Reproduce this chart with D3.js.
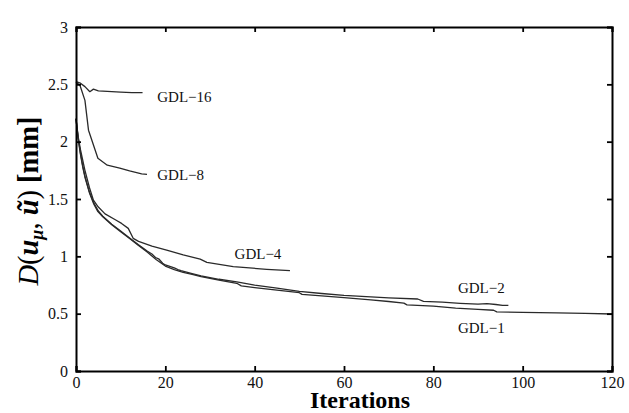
<!DOCTYPE html>
<html><head><meta charset="utf-8">
<script src="https://cdn.jsdelivr.net/npm/d3@7"></script>
<style>body{margin:0;background:#fff}svg{display:block}text{font-family:"Liberation Serif","Times New Roman",serif}</style>
</head><body><svg id="c" width="629" height="413"></svg>
<script>
const xTicks = [0,20,40,60,80,100,120];
const yTicks = [0,0.5,1,1.5,2,2.5,3];
const yTickLabels = ["0","0.5","1","1.5","2","2.5","3"];

const gdl16 = [[0,2.523],[1,2.51],[2,2.48],[3.1,2.436],[3.9,2.458],[5,2.443],[7,2.438],[10,2.432],[12.5,2.428],[14.9,2.427]];
const gdl8 = [[0,2.52],[0.9,2.49],[2,2.36],[2.8,2.1],[4.9,1.855],[7,1.795],[9.8,1.77],[12,1.745],[14.7,1.72],[15.9,1.715]];
const gdl4 = [[0,2.2],[0.5,2.04],[1,1.93],[2,1.75],[3,1.6],[3.9,1.49],[5,1.43],[6.5,1.37],[8.9,1.317],[10.2,1.287],[11.7,1.244],[12.8,1.157],[14,1.13],[17,1.09],[20.3,1.055],[24,1.012],[27.8,0.975],[29.3,0.948],[35.2,0.91],[42.7,0.887],[47.9,0.875]];
const gdl2 = [[0,2.2],[0.5,2.03],[1,1.9],[1.5,1.79],[2,1.7],[3,1.56],[4,1.465],[5,1.395],[6,1.35],[8,1.28],[10,1.22],[12,1.16],[14,1.1],[16,1.045],[17,1.02],[17.8,0.99],[18.6,0.975],[19.4,0.94],[20,0.925],[22,0.9],[22.8,0.885],[23.5,0.875],[26,0.85],[28,0.83],[32,0.8],[36,0.777],[40,0.748],[45,0.722],[50,0.695],[55,0.676],[60,0.66],[66,0.646],[70,0.638],[76.5,0.628],[77.8,0.607],[82,0.6],[86,0.59],[90,0.583],[92,0.588],[94,0.58],[95.5,0.572],[96.8,0.572]];
const gdl1 = [[0,2.2],[0.5,2.02],[1,1.89],[1.5,1.78],[2,1.69],[3,1.555],[4,1.455],[4.9,1.39],[6,1.345],[8,1.275],[10,1.215],[12,1.155],[14,1.095],[16,1.035],[18,0.97],[20,0.915],[22,0.885],[24,0.86],[26,0.842],[28,0.823],[32,0.793],[36,0.765],[37,0.742],[40,0.728],[45,0.706],[50,0.683],[50.6,0.668],[55,0.656],[60,0.64],[66,0.62],[70,0.606],[73.4,0.592],[74.1,0.577],[80,0.566],[85,0.549],[90,0.537],[93.5,0.53],[94.2,0.516],[100,0.512],[107.6,0.507],[114,0.502],[120,0.497]];

const seriesNames = ["GDL−16","GDL−8","GDL−4","GDL−2","GDL−1"];
const seriesData = [gdl16, gdl8, gdl4, gdl2, gdl1];
const labelAnchors = [[18.2,2.35],[18.2,1.666],[35.5,0.977],[85.5,0.68],[85.5,0.331]];

const svg = d3.select("#c");
const L = 76, R = 612, T = 27, B = 371;
const x = d3.scaleLinear().domain([0,120]).range([L,R]);
const y = d3.scaleLinear().domain([0,3]).range([B,T]);

const line = d3.line().x(d=>x(d[0])).y(d=>y(d[1]));
seriesData.forEach(s=>{
  svg.append("path").attr("d", line(s)).attr("fill","none")
    .attr("stroke","#2a2a2a").attr("stroke-width",1.3).attr("stroke-linejoin","round");
});

// axes with inward ticks
const tk = 5;
const gB = svg.append("g").attr("transform",`translate(0,${B})`)
  .call(d3.axisBottom(x).tickValues(xTicks).tickSize(-tk).tickPadding(6).tickFormat(d3.format("d")));
const gT = svg.append("g").attr("transform",`translate(0,${T})`)
  .call(d3.axisTop(x).tickValues(xTicks).tickSize(-tk).tickFormat(""));
const gL = svg.append("g").attr("transform",`translate(${L},0)`)
  .call(d3.axisLeft(y).tickValues(yTicks).tickSize(-tk).tickPadding(8).tickFormat((d,i)=>yTickLabels[i]));
const gR = svg.append("g").attr("transform",`translate(${R},0)`)
  .call(d3.axisRight(y).tickValues(yTicks).tickSize(-tk).tickFormat(""));
[gB,gT,gL,gR].forEach(g=>{
  g.select(".domain").attr("stroke","#000").attr("stroke-width",2);
  g.selectAll(".tick line").attr("stroke","#000").attr("stroke-width",1.8);
  g.selectAll(".tick text").attr("font-family","Liberation Serif, serif").attr("font-size",16).attr("fill","#111");
});

// series labels
seriesNames.forEach((n,i)=>{
  svg.append("text").attr("x",x(labelAnchors[i][0])).attr("y",y(labelAnchors[i][1]))
    .attr("font-size",15).attr("fill","#111").text(n);
});

// x label
svg.append("text").attr("x",360).attr("y",407.5).attr("text-anchor","middle")
  .attr("font-size",24).attr("font-weight","bold").attr("fill","#000").text("Iterations");

// y label
const yl = svg.append("text").attr("transform","translate(38,201) rotate(-90)")
  .attr("text-anchor","middle").attr("font-size",28.5).attr("fill","#000");
yl.append("tspan").attr("font-style","italic").text("D");
yl.append("tspan").text("(");
yl.append("tspan").attr("font-style","italic").attr("font-weight","bold").text("u");
yl.append("tspan").attr("font-style","italic").attr("font-weight","bold").attr("font-size",18).attr("dy",5).text("μ");
yl.append("tspan").attr("dy",-5).text(", ");
yl.append("tspan").attr("font-style","italic").attr("font-weight","bold").text("ũ");
yl.append("tspan").text(")");
yl.append("tspan").attr("font-weight","bold").text(" [mm]");
</script></body></html>
